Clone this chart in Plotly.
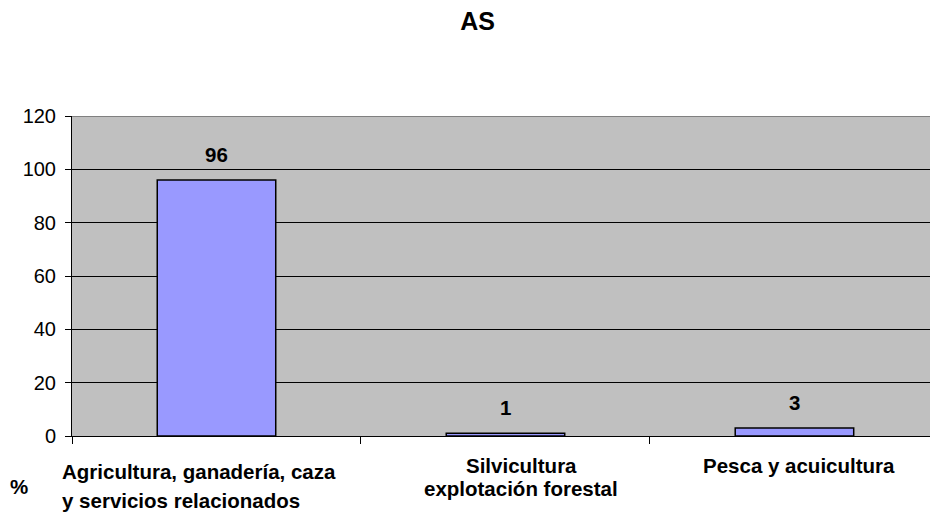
import plotly.graph_objects as go

title = "AS"
categories_lines = [
    ["Agricultura, ganadería, caza", "y servicios relacionados"],
    ["Silvicultura", "explotación forestal"],
    ["Pesca y acuicultura"],
]
values = [96, 1, 3]
y_ticks = [0, 20, 40, 60, 80, 100, 120]
y_unit = "%"

FONT = "Liberation Sans, Arial, sans-serif"
LBL = 20.5
x_pos = list(range(len(values)))

fig = go.Figure()
fig.add_trace(go.Bar(
    x=x_pos, y=values, width=0.41,
    marker=dict(color="#9999FF", line=dict(color="#000000", width=1.5)),
    hoverinfo="skip",
))

ann = []
# data labels
for xi, v in zip(x_pos, values):
    ann.append(dict(x=xi, y=v, xref="x", yref="y", text=f"<b>{v}</b>", showarrow=False,
                    yshift=26, xanchor="center", yanchor="middle",
                    font=dict(family=FONT, size=LBL, color="#000")))

# category labels (placement per category)
label_style = [
    dict(xshift=-156.5, xanchor="left", yshifts=[-35, -64]),
    dict(xshift=16, xanchor="center", yshifts=[-29, -52]),
    dict(xshift=5, xanchor="center", yshifts=[-29]),
]
for xi, lines, st in zip(x_pos, categories_lines, label_style):
    for line, ys in zip(lines, st["yshifts"]):
        ann.append(dict(x=xi, y=0, xref="x", yref="y", text=f"<b>{line}</b>", showarrow=False,
                        xshift=st["xshift"], yshift=ys, xanchor=st["xanchor"], yanchor="middle",
                        font=dict(family=FONT, size=LBL, color="#000")))

ann.append(dict(x=-0.5, y=0, xref="x", yref="y", text=f"<b>{y_unit}</b>", showarrow=False,
                xshift=19 - 72, yshift=-50, xanchor="center", yanchor="middle",
                font=dict(family=FONT, size=LBL, color="#000")))

fig.update_layout(
    width=930, height=523,
    margin=dict(l=72, r=0, t=116, b=87),
    paper_bgcolor="white", plot_bgcolor="#C0C0C0",
    showlegend=False,
    annotations=ann,
    title=dict(text=f"<b>{title}</b>", xref="container", yref="container",
               x=477.5 / 930, y=1 - 21 / 523, xanchor="center", yanchor="middle",
               font=dict(family=FONT, size=25, color="#000")),
    xaxis=dict(range=[-0.5, 2.469], tickvals=[-0.5, 0.5, 1.5], ticks="outside", ticklen=7,
               tickcolor="#000", tickwidth=1, showticklabels=False, showgrid=False,
               zeroline=False, showline=True, linecolor="#000", linewidth=1, fixedrange=True),
    yaxis=dict(range=[0, 120], tickvals=y_ticks, ticktext=[str(t) for t in y_ticks],
               ticks="outside", ticklen=6, tickcolor="#000", tickwidth=1,
               showgrid=True, gridcolor="#000", gridwidth=1, zeroline=False,
               showline=True, linecolor="#000", linewidth=1,
               tickfont=dict(family=FONT, size=20, color="#000"), ticklabelstandoff=5,
               fixedrange=True),
    shapes=[dict(type="line", xref="paper", yref="y", x0=0, x1=1, y0=120, y1=120,
                 line=dict(color="#808080", width=2), layer="above")],
)

fig.write_html("out.html", config={"responsive": False, "displayModeBar": False},
               post_script="document.body.style.margin='0';document.body.style.overflow='hidden';")
